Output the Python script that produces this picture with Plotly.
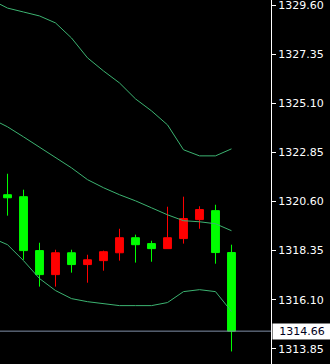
import plotly.graph_objects as go

# Candles (index 0..14); red = rising bar, lime = falling bar
idx = list(range(15))
opens  = [1320.91, 1320.82, 1318.35, 1317.25, 1318.25, 1317.71, 1317.89, 1318.25, 1318.94, 1318.67, 1318.44, 1318.90, 1319.77, 1320.18, 1318.26]
highs  = [1321.87, 1321.14, 1318.71, 1318.39, 1318.39, 1318.16, 1318.35, 1319.35, 1319.08, 1318.80, 1320.36, 1320.82, 1320.38, 1320.45, 1318.62]
lows   = [1319.95, 1317.93, 1316.70, 1316.70, 1317.34, 1316.88, 1317.43, 1317.89, 1317.80, 1317.84, 1318.44, 1318.67, 1319.35, 1317.75, 1313.73]
closes = [1320.77, 1318.35, 1317.25, 1318.25, 1317.71, 1317.93, 1318.30, 1318.94, 1318.62, 1318.44, 1318.94, 1319.82, 1320.23, 1318.26, 1314.66]

# Bollinger bands (index -1..14)
band_idx = list(range(-1, 15))
upper  = [1329.83, 1329.46, 1329.28, 1329.10, 1328.78, 1328.09, 1327.18, 1326.58, 1326.03, 1325.30, 1324.75, 1324.11, 1322.97, 1322.69, 1322.69, 1323.01]
middle = [1324.39, 1324.02, 1323.56, 1323.10, 1322.60, 1322.14, 1321.60, 1321.23, 1320.91, 1320.63, 1320.31, 1319.99, 1319.72, 1319.67, 1319.58, 1319.26]
lower  = [1318.94, 1318.62, 1317.89, 1317.07, 1316.52, 1316.15, 1316.01, 1315.92, 1315.83, 1315.83, 1315.83, 1315.97, 1316.47, 1316.56, 1316.47, 1315.56]

tick_vals = [1329.60, 1327.35, 1325.10, 1322.85, 1320.60, 1318.35, 1316.10, 1313.85]
tick_text = ["1329.60", "1327.35", "1325.10", "1322.85", "1320.60", "1318.35", "1316.10", "1313.85"]
last_price = 1314.66

band_color = "rgb(60,179,113)"

fig = go.Figure()
for b in (upper, middle, lower):
    fig.add_trace(go.Scatter(x=band_idx, y=b, mode="lines",
                             line=dict(color=band_color, width=1),
                             hoverinfo="skip", showlegend=False))

fig.add_trace(go.Candlestick(
    x=idx, open=opens, high=highs, low=lows, close=closes,
    increasing=dict(line=dict(color="#ff0000", width=1), fillcolor="#ff0000"),
    decreasing=dict(line=dict(color="#00ff00", width=1), fillcolor="#00ff00"),
    whiskerwidth=0, showlegend=False))

fig.add_shape(type="line", xref="paper", x0=0, x1=1, yref="y", y0=last_price, y1=last_price,
              line=dict(color="#8090a8", width=1))

fig.add_annotation(xref="paper", x=1, xanchor="left", xshift=1, yref="y", y=last_price,
                   text=f"{last_price:.2f}", showarrow=False, bgcolor="white",
                   font=dict(family="DejaVu Sans", size=11, color="#000020"),
                   borderpad=1, width=56, align="center")

fig.update_layout(
    width=330, height=364,
    margin=dict(l=0, r=59, t=0, b=0),
    paper_bgcolor="black", plot_bgcolor="black",
    boxgap=0.3,
    xaxis=dict(range=[-0.47, 16.47], visible=False, rangeslider=dict(visible=False), fixedrange=True),
    yaxis=dict(range=[1313.155, 1329.83], side="right", tickvals=tick_vals, ticktext=tick_text,
               showgrid=False, zeroline=False, showline=True, linecolor="white", linewidth=1,
               ticks="outside", ticklen=4, tickcolor="white", ticklabeloverflow="allow",
               tickfont=dict(family="DejaVu Sans", size=11, color="white")),
    showlegend=False,
)

fig.write_html("out.html")
